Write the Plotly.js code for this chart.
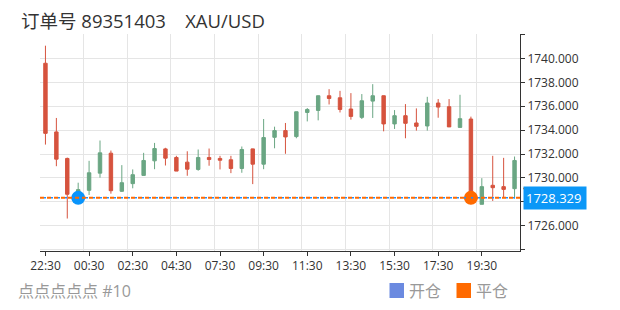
<!DOCTYPE html>
<html>
<head>
<meta charset="utf-8">
<script src="https://cdn.plot.ly/plotly-3.0.1.min.js"></script>
<style>html,body{margin:0;padding:0;background:#fff;}#chart{width:620px;height:310px;}</style>
</head>
<body>
<div id="chart"></div>
<script>
// ---- data ----
const times = ['22:30','23:00','23:30','00:00','00:30','01:00','01:30','02:00','02:30','03:00','03:30','04:00',
  '04:30','06:00','06:30','07:00','07:30','08:00','08:30','09:00','09:30','10:00','10:30','11:00',
  '11:30','12:00','12:30','13:00','13:30','14:00','14:30','15:00','15:30','16:00','16:30','17:00',
  '17:30','18:00','18:30','19:00','19:30','20:00','20:30','21:00'];
const openP  = [1739.60,1733.85,1731.63,1728.63,1728.96,1730.40,1732.07,1728.88,1729.52,1730.21,1731.43,1732.43,
  1731.71,1731.32,1730.71,1731.71,1731.63,1731.52,1730.79,1732.43,1731.15,1733.40,1733.96,1733.46,
  1735.48,1735.65,1736.88,1736.71,1735.77,1735.07,1736.43,1736.88,1734.52,1735.21,1734.60,1734.35,
  1736.27,1735.96,1734.23,1734.93,1727.79,1729.38,1729.27,1729.10];
const highP  = [1741.07,1735.02,1731.70,1729.60,1731.43,1733.13,1732.29,1731.07,1730.71,1732.10,1732.93,1732.52,
  1731.85,1732.23,1732.38,1732.46,1731.85,1731.85,1732.63,1732.45,1734.93,1734.29,1734.60,1735.55,
  1735.85,1736.90,1737.43,1737.29,1737.10,1737.02,1737.85,1736.90,1735.68,1736.18,1735.82,1736.79,
  1736.60,1736.60,1736.96,1735.13,1729.98,1731.85,1731.68,1731.79];
const lowP   = [1732.79,1730.98,1726.60,1728.30,1728.57,1730.02,1728.68,1728.82,1729.13,1730.20,1730.73,1731.04,
  1730.57,1730.18,1730.60,1731.02,1730.71,1730.40,1730.43,1729.48,1730.73,1732.48,1732.02,1733.32,
  1734.73,1734.82,1736.15,1735.48,1734.88,1734.93,1735.02,1733.90,1734.10,1733.32,1733.96,1733.96,
  1735.04,1734.27,1734.23,1727.80,1727.79,1728.07,1728.32,1728.27];
const closeP = [1733.73,1731.57,1728.63,1729.02,1730.43,1732.10,1728.93,1729.60,1730.27,1731.46,1732.46,1731.65,
  1730.57,1730.73,1731.71,1731.54,1731.48,1730.79,1732.38,1731.15,1733.38,1733.96,1733.43,1735.54,
  1735.73,1736.88,1736.65,1735.73,1735.15,1736.46,1736.88,1734.52,1735.21,1734.57,1734.32,1736.27,
  1735.93,1734.27,1734.96,1727.90,1729.27,1729.18,1729.04,1731.46];
const currentPrice = 1728.329;
const openTrade  = {time: ['00:00'], price: [1728.329]};
const closeTrade = {time: ['19:00'], price: [1728.329]};
const xTickVals = ['22:30','00:30','02:30','04:30','07:30','09:30','11:30','13:30','15:30','17:30','19:30'];
const yTickVals = [1724,1726,1728,1730,1732,1734,1736,1738,1740,1742];
const yTickText = ['','1726.000','','1730.000','1732.000','1734.000','1736.000','1738.000','1740.000',''];
const titleText = '订单号 89351403\u00a0\u00a0\u00a0\u00a0XAU/USD';
const footText = '点点点点点 #10';
const legendNames = ['开仓','平仓'];

// ---- styles ----
const RED = '#d6533e', GREEN = '#6aa683';
const FONT = '"Open Sans", "Noto Sans CJK SC", sans-serif';

const n = times.length;
const boundaryGrid = [];
for (let i = 0; i < n; i += 4) boundaryGrid.push(i - 0.5);

const traces = [
  // helper (invisible) trace so that the boundary-grid axis is drawn
  {type: 'scatter', mode: 'markers', xaxis: 'x2', yaxis: 'y', x: [boundaryGrid[0]], y: [currentPrice],
   marker: {size: 1, opacity: 0}, showlegend: false, hoverinfo: 'skip'},
  {
    type: 'candlestick', x: times, open: openP, high: highP, low: lowP, close: closeP,
    increasing: {line: {color: GREEN, width: 1}, fillcolor: GREEN},
    decreasing: {line: {color: RED, width: 1}, fillcolor: RED},
    whiskerwidth: 0, hoverinfo: 'skip', showlegend: false
  },
  {type: 'scatter', mode: 'markers', x: openTrade.time, y: openTrade.price,
   marker: {size: 14, color: '#0994fb'}, showlegend: false, hoverinfo: 'skip'},
  {type: 'scatter', mode: 'markers', x: closeTrade.time, y: closeTrade.price,
   marker: {size: 14, color: '#ff6a00'}, showlegend: false, hoverinfo: 'skip'}
];

const P = (px) => (px - 40) / 480;     // pixel -> paper x
const Q = (py) => (251 - py) / 217;    // pixel -> paper y

const layout = {
  width: 620, height: 310,
  margin: {l: 40, r: 100, t: 34, b: 59},
  paper_bgcolor: '#fff', plot_bgcolor: '#fff',
  showlegend: false,
  boxgap: 0.55,
  font: {family: FONT, color: '#333', size: 12},
  xaxis: {
    type: 'category', range: [-0.5, n - 0.5],
    tickvals: xTickVals, ticktext: xTickVals, tickangle: 0,
    showgrid: false,
    showline: true, linecolor: '#333', linewidth: 1,
    ticks: 'outside', ticklen: 4, tickcolor: '#333',
    tickfont: {size: 12, color: '#333', family: FONT},
    rangeslider: {visible: false}, fixedrange: true, zeroline: false
  },
  xaxis2: {
    overlaying: 'x', anchor: 'y', type: 'linear', range: [-0.5, n - 0.5],
    tickvals: boundaryGrid, showticklabels: false, ticks: '',
    showgrid: true, gridcolor: '#e5e5e5', gridwidth: 1,
    showline: false, zeroline: false, fixedrange: true
  },
  yaxis: {
    side: 'right', range: [1723.88, 1742.05],
    tickvals: yTickVals, ticktext: yTickText,
    showgrid: true, gridcolor: '#e5e5e5', gridwidth: 1,
    showline: true, linecolor: '#333', linewidth: 1,
    ticks: 'outside', ticklen: 4, tickcolor: '#333',
    tickfont: {size: 12, color: '#333', family: FONT},
    zeroline: false, fixedrange: true
  },
  shapes: [
    {type: 'line', xref: 'paper', yref: 'y', x0: 0, x1: 1, y0: currentPrice, y1: currentPrice,
     line: {color: '#1e90ff', width: 1.5, dash: '0px,4px,2px,1px'}},
    {type: 'line', xref: 'paper', yref: 'y', x0: 0, x1: 1, y0: currentPrice, y1: currentPrice,
     line: {color: '#ff6a00', width: 2, dash: '4px,3px'}},
    {type: 'rect', xref: 'paper', yref: 'paper', x0: P(389.5), x1: P(404), y0: Q(298), y1: Q(283),
     fillcolor: '#6b8ae0', line: {width: 0}},
    {type: 'rect', xref: 'paper', yref: 'paper', x0: P(456.5), x1: P(471), y0: Q(298), y1: Q(283),
     fillcolor: '#ff6a00', line: {width: 0}},
    {type: 'line', xref: 'paper', yref: 'paper', x0: P(523), x1: P(580), y0: Q(188.5), y1: Q(188.5),
     line: {color: '#ff6a00', width: 1.5}}
  ],
  annotations: [
    {xref: 'paper', yref: 'y', x: 1, y: currentPrice, xanchor: 'left', yanchor: 'middle', xshift: 3,
     text: currentPrice.toFixed(3), showarrow: false, bgcolor: '#0b97f7',
     font: {color: '#fff', size: 13, family: FONT}, width: 58, height: 18, align: 'left', borderpad: 2},
    {xref: 'paper', yref: 'paper', x: P(19), y: Q(20.5), xanchor: 'left', yanchor: 'middle',
     text: titleText, showarrow: false, font: {size: 18.5, color: '#333', family: FONT}},
    {xref: 'paper', yref: 'paper', x: P(16), y: Q(291), xanchor: 'left', yanchor: 'middle',
     text: footText, showarrow: false, font: {size: 16, color: '#999', family: FONT}},
    {xref: 'paper', yref: 'paper', x: P(407), y: Q(290.5), xanchor: 'left', yanchor: 'middle',
     text: legendNames[0], showarrow: false, font: {size: 16, color: '#999', family: FONT}},
    {xref: 'paper', yref: 'paper', x: P(473.5), y: Q(290.5), xanchor: 'left', yanchor: 'middle',
     text: legendNames[1], showarrow: false, font: {size: 16, color: '#999', family: FONT}}
  ]
};

Plotly.newPlot('chart', traces, layout, {staticPlot: true, displayModeBar: false});
</script>
</body>
</html>
